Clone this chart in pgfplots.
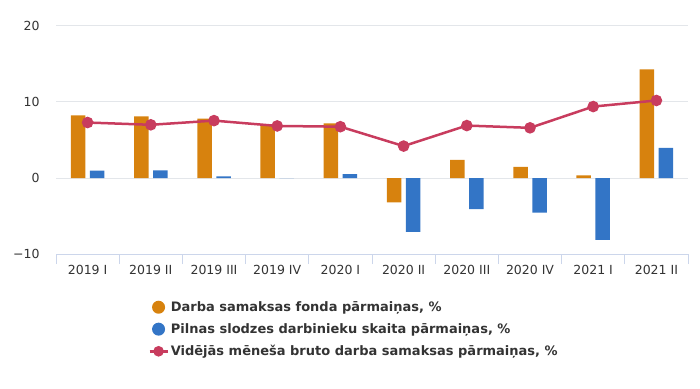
\documentclass[border=0pt]{standalone}
\usepackage{pgfplots}
\pgfplotsset{compat=1.18}
\usepackage{fontspec}
\setmainfont{DejaVu Sans}
\definecolor{orng}{HTML}{D7820E}
\definecolor{blu}{HTML}{3375C6}
\definecolor{lc}{HTML}{C83C5E}
\definecolor{gridc}{HTML}{E3E6EA}
\definecolor{axc}{HTML}{CCD6EB}
\definecolor{txt}{HTML}{333333}
\begin{document}
\begin{tikzpicture}[x=1pt,y=1pt]
\useasboundingbox (0,0) rectangle (700,388);
\begin{axis}[
  at={(56pt,134pt)}, anchor=south west,
  scale only axis, width=632pt, height=228pt,
  xmin=-0.5, xmax=9.5, ymin=-10, ymax=20,
  ytick={-10,0,10,20},
  yticklabels={−10,0,10,20},
  ymajorgrids, grid style={color=gridc, line width=1pt},
  axis x line*=bottom, axis y line*=left,
  y axis line style={draw=none},
  x axis line style={draw=axc, line width=1pt},
  xtick={0,...,9},
  xticklabels={2019 I,2019 II,2019 III,2019 IV,2020 I,2020 II,2020 III,2020 IV,2021 I,2021 II},
  minor xtick={-0.5,0.5,...,9.5},
  major tick length=0pt,
  minor tick length=10pt,
  tick align=outside,
  minor x tick style={draw=axc, line width=1pt},
  tick label style={font=\fontsize{12.5}{15}\selectfont, text=txt},
  xticklabel style={yshift=-8pt},
  yticklabel style={xshift=-13pt},
  legend style={draw=none, fill=none, at={(0.141,-0.19)}, anchor=north west,
    font=\fontsize{13}{15}\selectfont\bfseries, text=txt, row sep=6.5pt,
    cells={anchor=west}},
]
\addplot[ybar, bar width=14.5pt, bar shift=-9.5pt, fill=orng, draw=none,
  legend image code/.code={\fill[orng] (3pt,0pt) circle (6.5pt);}]
  coordinates {(0,8.25) (1,8.1) (2,7.8) (3,7.0) (4,7.2) (5,-3.2) (6,2.4) (7,1.45) (8,0.35) (9,14.3)};
\addlegendentry{Darba samaksas fonda pārmaiņas, \%}
\addplot[ybar, bar width=14.5pt, bar shift=9.5pt, fill=blu, draw=none,
  legend image code/.code={\fill[blu] (3pt,0pt) circle (6.5pt);}]
  coordinates {(0,0.97) (1,1.0) (2,0.2) (3,0) (4,0.5) (5,-7.1) (6,-4.1) (7,-4.55) (8,-8.15) (9,3.95)};
\addlegendentry{Pilnas slodzes darbinieku skaita pārmaiņas, \%}
\addplot[color=lc, line width=2.5pt, mark=*, mark size=4.5pt, mark options={fill=lc, draw=lc},
  legend image code/.code={\draw[lc, line width=2.5pt] (-6pt,0pt) -- (12pt,0pt); \fill[lc] (3pt,0pt) circle (4pt);}]
  coordinates {(0,7.3) (1,7.0) (2,7.55) (3,6.85) (4,6.75) (5,4.2) (6,6.9) (7,6.6) (8,9.4) (9,10.2)};
\addlegendentry{Vidējās mēneša bruto darba samaksas pārmaiņas, \%}
\end{axis}
\end{tikzpicture}
\end{document}
